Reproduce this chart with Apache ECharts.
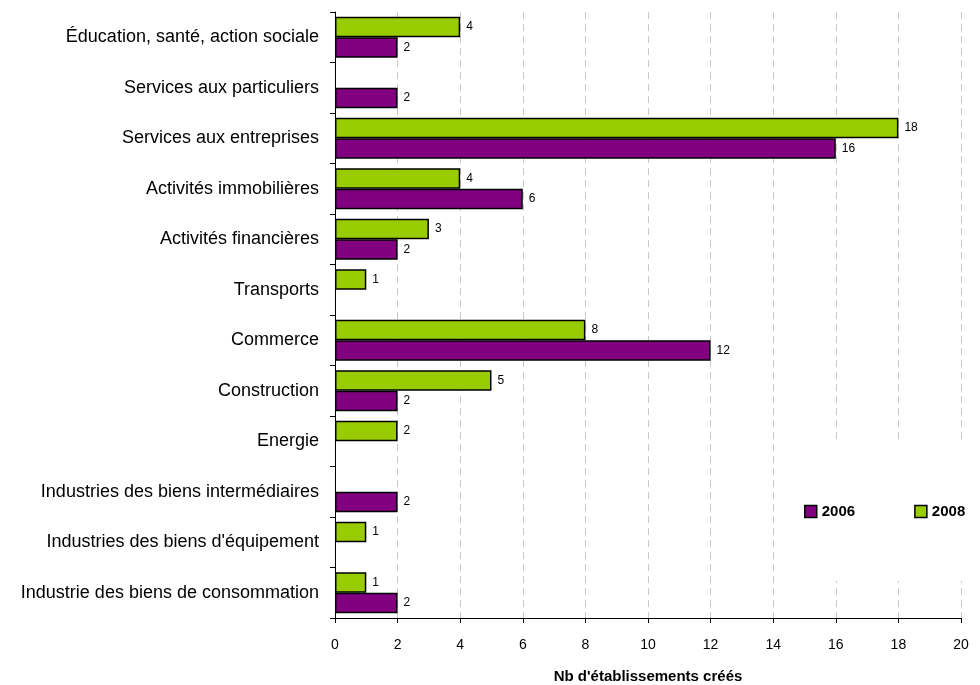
<!DOCTYPE html>
<html>
<head>
<meta charset="utf-8">
<script src="https://cdn.jsdelivr.net/npm/echarts@6/dist/echarts.min.js"></script>
<style>
  html, body { margin: 0; padding: 0; background: #fff; }
  #chart { width: 980px; height: 685px; }
</style>
</head>
<body>
<div id="chart"></div>
<script>
// categories, top to bottom
var categories = [
    'Éducation, santé, action sociale',
    'Services aux particuliers',
    'Services aux entreprises',
    'Activités immobilières',
    'Activités financières',
    'Transports',
    'Commerce',
    'Construction',
    'Energie',
    'Industries des biens intermédiaires',
    "Industries des biens d'équipement",
    'Industrie des biens de consommation'
];
var values2006 = [2, 2, 16, 6, 2, null, 12, 2, null, 2, null, 2];
var values2008 = [4, null, 18, 4, 3, 1, 8, 5, 2, null, 1, 1];
var xTicks = [0, 2, 4, 6, 8, 10, 12, 14, 16, 18, 20];

var chart = echarts.init(document.getElementById('chart'), null, {renderer: 'canvas'});

var labelStyle = {
    show: true,
    position: 'right',
    distance: 6,
    color: '#000',
    fontSize: 12,
    fontFamily: 'Liberation Sans, Arial, sans-serif'
};

chart.setOption({
    animation: false,
    textStyle: {fontFamily: 'Liberation Sans, Arial, sans-serif'},
    grid: {left: 335, right: 19, top: 12, bottom: 67, containLabel: false, outerBoundsMode: 'none'},
    legend: {
        data: ['2006', '2008'],
        left: 785,
        top: 443,
        orient: 'horizontal',
        icon: 'rect',
        backgroundColor: '#fff',
        padding: [61, 11, 62, 19],
        itemWidth: 12,
        itemHeight: 12,
        itemGap: 59,
        itemStyle: {borderColor: '#000', borderWidth: 1.5},
        textStyle: {color: '#000', fontSize: 15, fontWeight: 'bold'}
    },
    xAxis: {
        type: 'value',
        min: xTicks[0],
        max: xTicks[xTicks.length - 1],
        interval: 2,
        name: "Nb d'établissements créés",
        nameLocation: 'middle',
        nameGap: 51,
        nameTextStyle: {color: '#000', fontSize: 15, fontWeight: 'bold'},
        axisLine: {show: true, lineStyle: {color: '#000', width: 1}},
        axisTick: {show: true, length: 5, lineStyle: {color: '#000'}},
        axisLabel: {color: '#000', fontSize: 14, margin: 20},
        splitLine: {show: true, lineStyle: {color: '#c8c8c8', type: [7, 5], width: 1}}
    },
    yAxis: {
        type: 'category',
        data: categories,
        inverse: true,
        axisLine: {show: true, lineStyle: {color: '#000', width: 1}},
        axisTick: {show: true, length: 5, lineStyle: {color: '#000'}},
        axisLabel: {color: '#000', fontSize: 18, margin: 16},
        splitLine: {show: false}
    },
    series: [
        {
            name: '2008',
            type: 'bar',
            data: values2008,
            barGap: '0%',
            barCategoryGap: '19%',
            itemStyle: {color: '#99cc00', borderColor: '#000', borderWidth: 1.5},
            label: labelStyle
        },
        {
            name: '2006',
            type: 'bar',
            data: values2006,
            barGap: '0%',
            barCategoryGap: '19%',
            itemStyle: {color: '#800080', borderColor: '#000', borderWidth: 1.5},
            label: labelStyle
        }
    ]
});
</script>
</body>
</html>
